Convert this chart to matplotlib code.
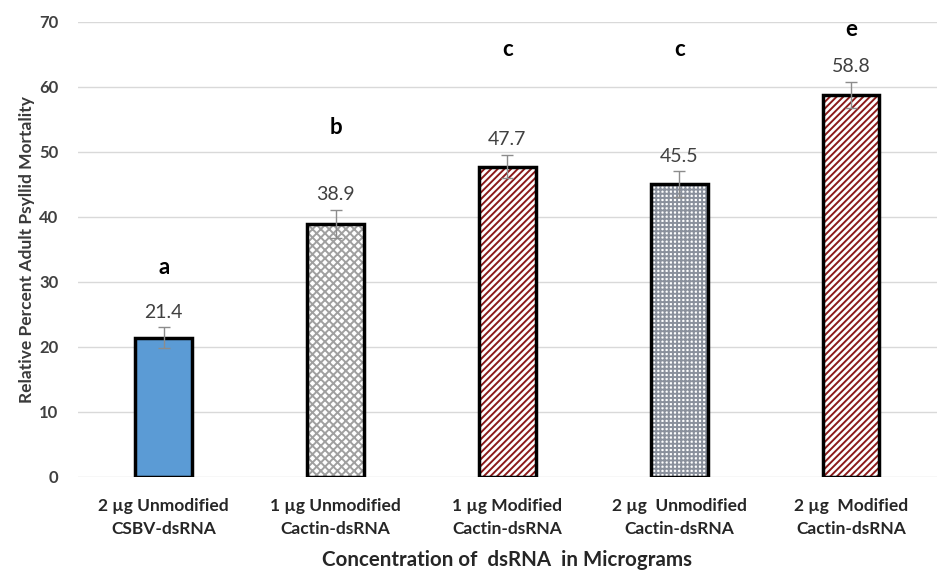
import matplotlib
matplotlib.use("Agg")
import matplotlib.pyplot as plt
import numpy as np

categories = ["2 µg Unmodified\nCSBV-dsRNA", "1 µg Unmodified\nCactin-dsRNA",
              "1 µg Modified\nCactin-dsRNA", "2 µg  Unmodified\nCactin-dsRNA",
              "2 µg  Modified\nCactin-dsRNA"]
heights = [21.4, 38.9, 47.7, 45.0, 58.8]
value_labels = ["21.4", "38.9", "47.7", "45.5", "58.8"]
errors = [1.6, 2.2, 1.8, 2.0, 2.0]
letters = ["a", "b", "c", "c", "e"]
letter_y = [32.2, 53.8, 65.8, 65.8, 68.8]

plt.rcParams["font.family"] = ["Lato", "DejaVu Sans"]
plt.rcParams["hatch.linewidth"] = 1.4

fig = plt.figure(figsize=(9.38, 5.71), dpi=100)
ax = fig.add_axes([0.083, 0.165, 0.916, 0.797])

x = np.arange(len(heights))
w = 0.33
# fill / hatch layer, then black outline on top
styles = [dict(color="#5B9BD5", hatch=None),
          dict(color="#a0a0a0", hatch="xxxx"),
          dict(color="#8B1A1A", hatch="/////"),
          dict(color="#8a909c", hatch="++++"),
          dict(color="#8B1A1A", hatch="/////")]
for i, st in enumerate(styles):
    if st["hatch"] is None:
        ax.bar(x[i], heights[i], w, color=st["color"], lw=0, zorder=2)
    else:
        ax.bar(x[i], heights[i], w, facecolor="white", edgecolor=st["color"],
               hatch=st["hatch"], lw=0, zorder=2)
ax.bar(x, heights, w, fill=False, edgecolor="black", lw=2.5, zorder=3)
ax.errorbar(x, heights, yerr=errors, fmt="none", ecolor="#8c8c8c", elinewidth=1,
            capsize=4, capthick=1, zorder=4)

for i in x:
    ax.text(i, heights[i] + errors[i] + 1.0, value_labels[i], ha="center", va="bottom",
            fontsize=14, color="#404040")
    ax.text(i, letter_y[i], letters[i], ha="center", va="center", fontsize=16,
            fontweight="bold", color="black")

ax.set_ylim(0, 70)
ax.set_xlim(-0.5, 4.5)
ax.set_yticks(range(0, 71, 10))
ax.yaxis.grid(True, color="#d9d9d9", lw=1)
ax.set_axisbelow(True)
for s in ax.spines.values():
    s.set_visible(False)
ax.tick_params(length=0)
ax.tick_params(axis="y", pad=14, labelsize=12, labelcolor="#404040")
ax.tick_params(axis="x", pad=15, labelsize=12.5, labelcolor="#262626")
ax.set_xticks(x)
ax.set_xticklabels(categories, fontweight="bold", linespacing=1.6)
for t in ax.get_yticklabels():
    t.set_fontweight("bold")
ax.set_ylabel("Relative Percent Adult Psyllid Mortality", fontsize=12.5,
              fontweight="bold", color="#3a3a3a", labelpad=3)
ax.set_xlabel("Concentration of  dsRNA  in Micrograms", fontsize=14.8,
              fontweight="bold", color="#262626", labelpad=9)

fig.savefig("out.png", dpi=100)
